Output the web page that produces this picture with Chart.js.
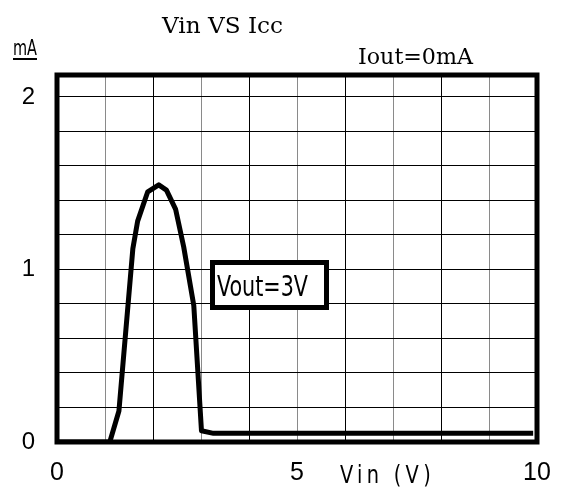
<!DOCTYPE html>
<html>
<head>
<meta charset="utf-8">
<script src="https://cdn.jsdelivr.net/npm/chart.js@4"></script>
<style>
  body { margin: 0; background: #fff; }
  #wrap { width: 565px; height: 487px; position: relative; }
</style>
</head>
<body>
<div id="wrap"><canvas id="c"></canvas></div>
<script>
// Vin (V) vs Icc (mA), Vout = 3V, Iout = 0mA
const vin = [0, 1.10, 1.29, 1.58, 1.68, 1.89, 2.12, 2.28, 2.47, 2.64, 2.85, 3.01, 3.26, 9.92];
const icc = [0, 0, 0.18, 1.12, 1.28, 1.45, 1.49, 1.46, 1.35, 1.13, 0.79, 0.065, 0.05, 0.05];
const xLabels = [0, 5, 10];
const yLabels = [0, 1, 2];

const sans = "'DejaVu Sans Condensed', 'Liberation Sans', sans-serif";

// draw text squeezed to a given width (the reference uses a narrow face)
function fitText(ctx, txt, x, y, width) {
  const w = ctx.measureText(txt).width;
  ctx.save();
  ctx.translate(x, y);
  ctx.scale(width / w, 1);
  ctx.fillText(txt, 0, 0);
  ctx.restore();
}

const frame = {
  id: 'frame',
  beforeDatasetsDraw(chart) {
    const a = chart.chartArea, ctx = chart.ctx;
    ctx.save();
    ctx.strokeStyle = '#000';
    ctx.lineWidth = 5;
    ctx.strokeRect(a.left, a.top, a.right - a.left, a.bottom - a.top);
    ctx.restore();
  },
  afterDraw(chart) {
    const ctx = chart.ctx;
    ctx.save();
    ctx.fillStyle = '#000';
    ctx.textBaseline = 'alphabetic';
    ctx.textAlign = 'left';

    ctx.font = "23px 'DejaVu Serif', serif";
    fitText(ctx, 'Vin VS Icc', 162, 33, 121);

    ctx.font = "22px 'DejaVu Serif', serif";
    fitText(ctx, 'Iout=0mA', 358, 64, 115);

    ctx.font = '21px ' + sans;
    fitText(ctx, 'mA', 13, 55, 24);
    ctx.fillRect(13, 58, 24, 2);

    ctx.font = '25px ' + sans;
    ctx.letterSpacing = '5px';
    fitText(ctx, 'Vin (V)', 340, 483, 95);
    ctx.letterSpacing = '0px';

    // Vout label box
    ctx.fillStyle = '#fff';
    ctx.fillRect(212, 262, 115, 46);
    ctx.strokeStyle = '#000';
    ctx.lineWidth = 5;
    ctx.strokeRect(212.5, 262.5, 114, 45);
    ctx.fillStyle = '#000';
    ctx.font = '29px ' + sans;
    fitText(ctx, 'Vout=3V', 217, 296, 91);
    ctx.restore();
  }
};

new Chart(document.getElementById('c'), {
  type: 'scatter',
  data: {
    datasets: [{
      data: vin.map((x, i) => ({ x: x, y: icc[i] })),
      showLine: true,
      borderColor: '#000',
      borderWidth: 5,
      pointRadius: 0,
      tension: 0,
      borderJoinStyle: 'round'
    }]
  },
  options: {
    responsive: true,
    maintainAspectRatio: false,
    animation: false,
    layout: { padding: { top: 75, right: 28, left: 0, bottom: 0 } },
    plugins: { legend: { display: false }, tooltip: { enabled: false } },
    scales: {
      x: {
        type: 'linear',
        min: 0,
        max: 10,
        afterFit(s) { s.height = 45; s.paddingLeft = 0; s.paddingRight = 0; },
        border: { display: false },
        grid: {
          drawTicks: false,
          lineWidth: 1,
          color: ctx => (ctx.tick && ctx.tick.value % 2 === 1) ? '#8a8a8a' : '#000'
        },
        ticks: {
          stepSize: 1,
          padding: 16,
          color: '#000',
          maxRotation: 0,
          autoSkip: false,
          font: { family: "'Liberation Sans', Arial, sans-serif", size: 25 },
          callback: v => xLabels.includes(v) ? String(v) : ''
        }
      },
      y: {
        type: 'linear',
        min: 0,
        max: 2.127,
        afterFit(s) { s.width = 57; s.paddingTop = 0; s.paddingBottom = 0; },
        border: { display: false },
        grid: { drawTicks: false, lineWidth: 1, color: '#000' },
        ticks: {
          stepSize: 0.2,
          includeBounds: false,
          padding: 22,
          color: '#000',
          autoSkip: false,
          font: { family: "'Liberation Sans', Arial, sans-serif", size: 24 },
          callback: v => {
            const r = Math.round(v * 10) / 10;
            return yLabels.includes(r) && Math.abs(v - r) < 1e-6 ? String(r) : '';
          }
        }
      }
    }
  },
  plugins: [frame]
});
</script>
</body>
</html>
